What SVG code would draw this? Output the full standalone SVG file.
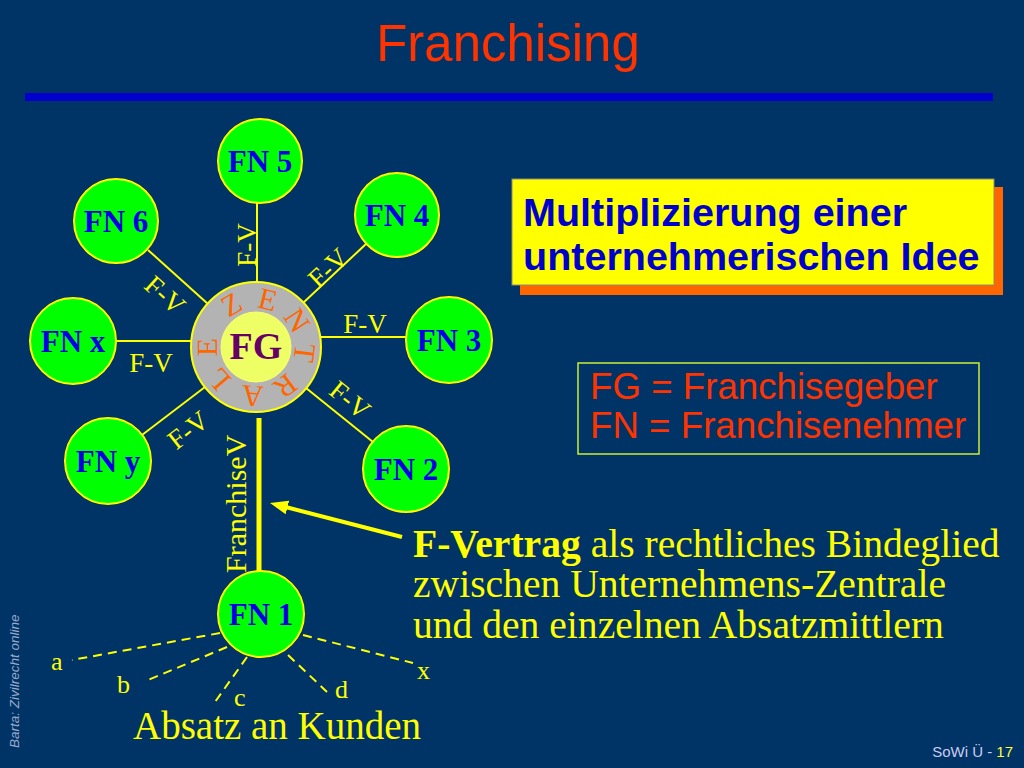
<svg xmlns="http://www.w3.org/2000/svg" width="1024" height="768" viewBox="0 0 1024 768">
<defs>
<style>
.fn{fill:#00FF00;stroke:#FFFF00;stroke-width:2}
.fnt{font-family:"Liberation Serif",serif;font-weight:bold;font-size:31px;fill:#0000E6;text-anchor:middle}
.ln{stroke:#FFFF00;stroke-width:2;fill:none}
.dash{stroke:#FFFF00;stroke-width:2;stroke-dasharray:9,6;fill:none}
.fv{font-family:"Liberation Serif",serif;font-size:27px;fill:#FFFF00;text-anchor:middle}
.ser{font-family:"Liberation Serif",serif;fill:#FFFF00}
.zl{font-family:"Liberation Serif",serif;font-size:30px;fill:#FF6600;text-anchor:middle}
.sans{font-family:"Liberation Sans",Arial,sans-serif}
</style>
<marker id="ah" markerUnits="userSpaceOnUse" markerWidth="20" markerHeight="16" refX="8" refY="7" orient="auto">
<path d="M0,0 L18,7 L0,14 z" fill="#FFFF00"/>
</marker>
</defs>
<rect width="1024" height="768" fill="#003366"/>
<text x="508" y="61" class="sans" font-size="51" fill="#FF3300" text-anchor="middle">Franchising</text>
<rect x="25" y="93" width="968" height="8" fill="#0000CC"/>

<g id="connectors">
<line class="ln" x1="257" y1="203" x2="257" y2="282"/>
<line class="ln" x1="303" y1="303" x2="366" y2="244"/>
<line class="ln" x1="148" y1="250" x2="208" y2="304"/>
<line class="ln" x1="116" y1="341" x2="191" y2="341"/>
<line class="ln" x1="320" y1="337" x2="406" y2="337"/>
<line class="ln" x1="142" y1="435" x2="205" y2="387"/>
<line class="ln" x1="306" y1="388" x2="373" y2="442"/>
<line x1="259" y1="418" x2="259" y2="572" stroke="#FFFF00" stroke-width="5"/>
<line x1="402" y1="537" x2="279.7" y2="505.5" stroke="#FFFF00" stroke-width="4" marker-end="url(#ah)"/>
<line class="dash" x1="220" y1="633" x2="72" y2="660"/>
<line class="dash" x1="227" y1="647" x2="148" y2="680"/>
<line class="dash" x1="247" y1="657" x2="215" y2="702"/>
<line class="dash" x1="288" y1="655" x2="327" y2="692"/>
<line class="dash" x1="303" y1="635" x2="413" y2="663"/>
<text class="fv" transform="translate(256,245) rotate(-90)">F-V</text>
<text class="fv" transform="translate(328,268) rotate(-43)" y="9">F-V</text>
<text class="fv" transform="translate(165,295) rotate(42)" y="9">F-V</text>
<text class="fv" x="151" y="372">F-V</text>
<text class="fv" x="365" y="333">F-V</text>
<text class="fv" transform="translate(188,430) rotate(-38)" y="9">F-V</text>
<text class="fv" transform="translate(350,400) rotate(39)" y="9">F-V</text>
<text class="ser" font-size="30" transform="translate(246,573) rotate(-90)">FranchiseV</text>
</g>

<g id="FG">
<circle cx="256" cy="347" r="65" fill="#B3B3B3" stroke="#FFFF00" stroke-width="2"/>
<circle cx="256" cy="347" r="35" fill="#EEFF66" stroke="#FFFF66" stroke-width="1"/>
<g class="zl">
<text transform="translate(256,347) rotate(-30)" y="-39">Z</text>
<text transform="translate(256,347) rotate(14)" y="-39">E</text>
<text transform="translate(256,347) rotate(57)" y="-39">N</text>
<text transform="translate(256,347) rotate(97)" y="-39">T</text>
<text transform="translate(256,347) rotate(143)" y="-39">R</text>
<text transform="translate(256,347) rotate(184)" y="-39">A</text>
<text transform="translate(256,347) rotate(229)" y="-39">L</text>
<text transform="translate(256,347) rotate(270)" y="-39">E</text>
</g>
<text x="256" y="359" font-family="Liberation Serif,serif" font-weight="bold" font-size="38" fill="#660066" text-anchor="middle">FG</text>
</g>

<g id="FN5"><circle class="fn" cx="260" cy="161" r="42"/><text class="fnt" x="260" y="172">FN 5</text></g>
<g id="FN4"><circle class="fn" cx="397" cy="215" r="42"/><text class="fnt" x="397" y="226">FN 4</text></g>
<g id="FN6"><circle class="fn" cx="116" cy="221" r="42"/><text class="fnt" x="116" y="232">FN 6</text></g>
<g id="FNx"><circle class="fn" cx="73" cy="341" r="43"/><text class="fnt" x="73" y="352">FN x</text></g>
<g id="FN3"><circle class="fn" cx="449" cy="340" r="43"/><text class="fnt" x="449" y="351">FN 3</text></g>
<g id="FNy"><circle class="fn" cx="108" cy="461" r="43"/><text class="fnt" x="108" y="472">FN y</text></g>
<g id="FN2"><circle class="fn" cx="406" cy="469" r="43"/><text class="fnt" x="406" y="480">FN 2</text></g>
<g id="FN1"><circle class="fn" cx="261" cy="614" r="43"/><text class="fnt" x="261" y="625">FN 1</text></g>

<g id="kunden" class="ser" font-size="26">
<text x="51" y="670">a</text>
<text x="117" y="693">b</text>
<text x="234" y="706">c</text>
<text x="335" y="698">d</text>
<text x="417" y="679">x</text>
<text x="133" y="739" font-size="39">Absatz an Kunden</text>
</g>

<g id="idee">
<rect x="520" y="187" width="483" height="108" fill="#FF6600"/>
<rect x="512" y="179" width="482" height="106" fill="#FFFF00" stroke="#8C8C6E" stroke-width="1"/>
<text class="sans" font-weight="bold" font-size="39.5" fill="#0000CC" x="523" y="226">Multiplizierung einer</text>
<text class="sans" font-weight="bold" font-size="39.5" fill="#0000CC" x="523" y="270">unternehmerischen Idee</text>
</g>

<g id="legend">
<rect x="578" y="363" width="401" height="91" fill="none" stroke="#CCEE33" stroke-width="1.5"/>
<text class="sans" font-size="36.7" fill="#FF3300" x="590" y="399">FG = Franchisegeber</text>
<text class="sans" font-size="36.7" fill="#FF3300" x="590" y="438">FN = Franchisenehmer</text>
</g>

<g id="vertrag" class="ser" font-size="39.6">
<text x="413" y="557"><tspan font-weight="bold">F-Vertrag</tspan> als rechtliches Bindeglied</text>
<text x="413" y="597">zwischen Unternehmens-Zentrale</text>
<text x="413" y="638">und den einzelnen Absatzmittlern</text>
</g>

<text class="sans" font-style="italic" font-size="13.5" fill="#99AACC" transform="translate(19,748) rotate(-90)">Barta: Zivilrecht online</text>
<text class="sans" font-size="15" x="1013" y="757" text-anchor="end" fill="#CCCCEE">SoWi Ü - <tspan fill="#FFFF33">17</tspan></text>
</svg>
